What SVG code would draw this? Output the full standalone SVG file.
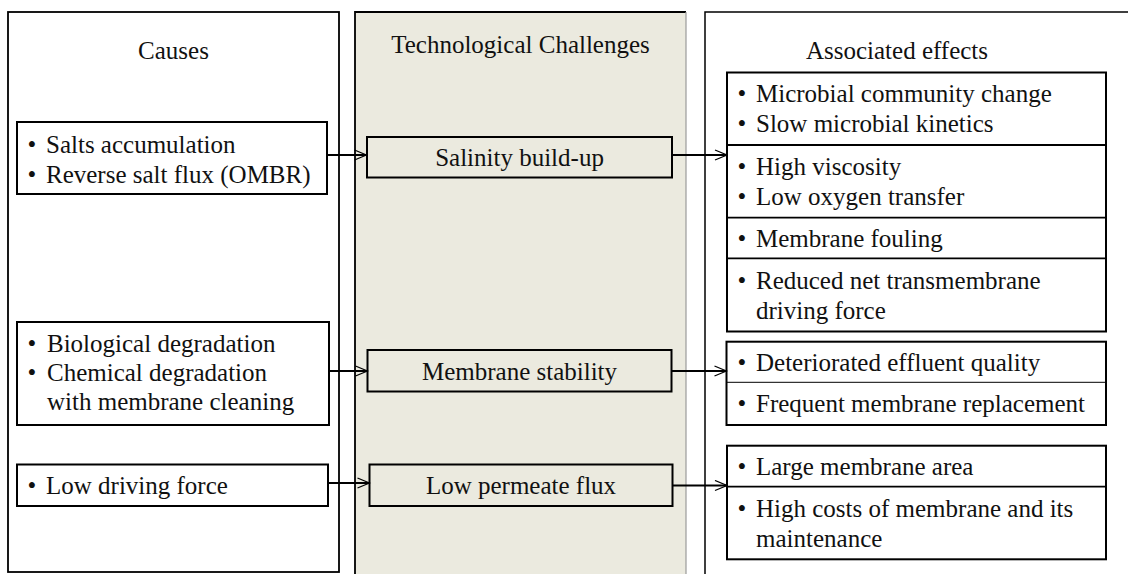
<svg xmlns="http://www.w3.org/2000/svg" width="1128" height="574" viewBox="0 0 1128 574">
<style>
text{font-family:"Liberation Serif","Times New Roman",serif;font-size:25px;fill:#111;}
.c{text-anchor:middle;}
.box{fill:none;stroke:#000;stroke-width:2;}
.panel{stroke:#000;stroke-width:1.8;}
.div{stroke:#000;stroke-width:1.8;}
.arr{stroke:#000;stroke-width:2.2;fill:none;marker-end:url(#ah);}
</style>
<defs>
<marker id="ah" markerUnits="userSpaceOnUse" markerWidth="14" markerHeight="12" refX="13" refY="6" orient="auto">
<path d="M1,1 L13,6 L1,11" fill="none" stroke="#000" stroke-width="1.3"/>
</marker>
</defs>
<rect width="1128" height="574" fill="#fff"/>

<g id="panel-causes">
<rect x="8" y="12" width="331" height="560" fill="#fff" class="panel"/>
<text x="173.5" y="59" class="c">Causes</text>
</g>
<g id="panel-challenges">
<path d="M355,576 V12 H686 V576 Z" fill="#EBEADF" stroke="none"/>
<path d="M355,576 V12 H686" fill="none" stroke="#000" stroke-width="1.8"/>
<path d="M686,12 V576" fill="none" stroke="#9a9a9a" stroke-width="1.2"/>
<text x="520.5" y="53" class="c">Technological Challenges</text>
</g>
<g id="panel-effects">
<path d="M705,576 V12 H1130" fill="none" stroke="#000" stroke-width="1.5"/>
<text x="897" y="59" class="c">Associated effects</text>
</g>

<g id="cause-salinity">
<rect x="17" y="122" width="310" height="72" class="box"/>
<text><tspan x="27.5" y="152.5">•</tspan><tspan x="46" y="152.5">Salts accumulation</tspan></text>
<text><tspan x="27.5" y="183">•</tspan><tspan x="46" y="183">Reverse salt flux (OMBR)</tspan></text>
</g>
<g id="cause-stability">
<rect x="17" y="322" width="312" height="103" class="box"/>
<text><tspan x="27.5" y="351.5">•</tspan><tspan x="47" y="351.5">Biological degradation</tspan></text>
<text><tspan x="27.5" y="381">•</tspan><tspan x="47" y="381">Chemical degradation</tspan></text>
<text x="47" y="410">with membrane cleaning</text>
</g>
<g id="cause-flux">
<rect x="17" y="464.5" width="311" height="41.5" class="box"/>
<text><tspan x="27.5" y="493.5">•</tspan><tspan x="46" y="493.5">Low driving force</tspan></text>
</g>

<g id="challenge-salinity">
<rect x="367" y="137" width="305" height="40.5" class="box"/>
<text x="519.5" y="166" class="c">Salinity build-up</text>
</g>
<g id="challenge-stability">
<rect x="367.5" y="350" width="304" height="41.5" class="box"/>
<text x="519.5" y="380" class="c">Membrane stability</text>
</g>
<g id="challenge-flux">
<rect x="369.5" y="464.5" width="303" height="41.5" class="box"/>
<text x="521" y="494" class="c">Low permeate flux</text>
</g>

<g id="effects-salinity">
<rect x="727" y="72.5" width="379" height="259" class="box"/>
<line x1="727" y1="145" x2="1106" y2="145" class="div" stroke-width="2.5"/>
<line x1="727" y1="217.7" x2="1106" y2="217.7" class="div"/>
<line x1="727" y1="258.3" x2="1106" y2="258.3" class="div"/>
<text><tspan x="737.5" y="101.5">•</tspan><tspan x="756" y="101.5">Microbial community change</tspan></text>
<text><tspan x="737.5" y="131.5">•</tspan><tspan x="756" y="131.5">Slow microbial kinetics</tspan></text>
<text><tspan x="737.5" y="175">•</tspan><tspan x="756" y="175">High viscosity</tspan></text>
<text><tspan x="737.5" y="205">•</tspan><tspan x="756" y="205">Low oxygen transfer</tspan></text>
<text><tspan x="737.5" y="247">•</tspan><tspan x="756" y="247">Membrane fouling</tspan></text>
<text><tspan x="737.5" y="289">•</tspan><tspan x="756" y="289">Reduced net transmembrane</tspan></text>
<text x="756" y="318.5">driving force</text>
</g>
<g id="effects-stability">
<rect x="726.5" y="341.7" width="379.5" height="83.3" class="box"/>
<line x1="727" y1="382.3" x2="1106" y2="382.3" stroke="#000" stroke-width="1"/>
<text><tspan x="737.5" y="370.5">•</tspan><tspan x="756" y="370.5">Deteriorated effluent quality</tspan></text>
<text><tspan x="737.5" y="411.5">•</tspan><tspan x="756" y="411.5">Frequent membrane replacement</tspan></text>
</g>
<g id="effects-flux">
<rect x="727" y="445.7" width="379" height="113.6" class="box"/>
<line x1="727" y1="486.7" x2="1106" y2="486.7" class="div"/>
<text><tspan x="737.5" y="475">•</tspan><tspan x="756" y="475">Large membrane area</tspan></text>
<text><tspan x="737.5" y="516.5">•</tspan><tspan x="756" y="516.5">High costs of membrane and its</tspan></text>
<text x="756" y="546.5">maintenance</text>
</g>

<g id="connectors">
<line x1="327" y1="155" x2="366.5" y2="155" class="arr"/>
<line x1="672" y1="155" x2="727" y2="155" class="arr"/>
<line x1="329" y1="371" x2="367.5" y2="371" class="arr"/>
<line x1="672" y1="371" x2="726.5" y2="371" class="arr"/>
<line x1="328" y1="483" x2="369.5" y2="483" class="arr"/>
<line x1="673" y1="485.5" x2="727" y2="485.5" class="arr"/>
</g>
</svg>
